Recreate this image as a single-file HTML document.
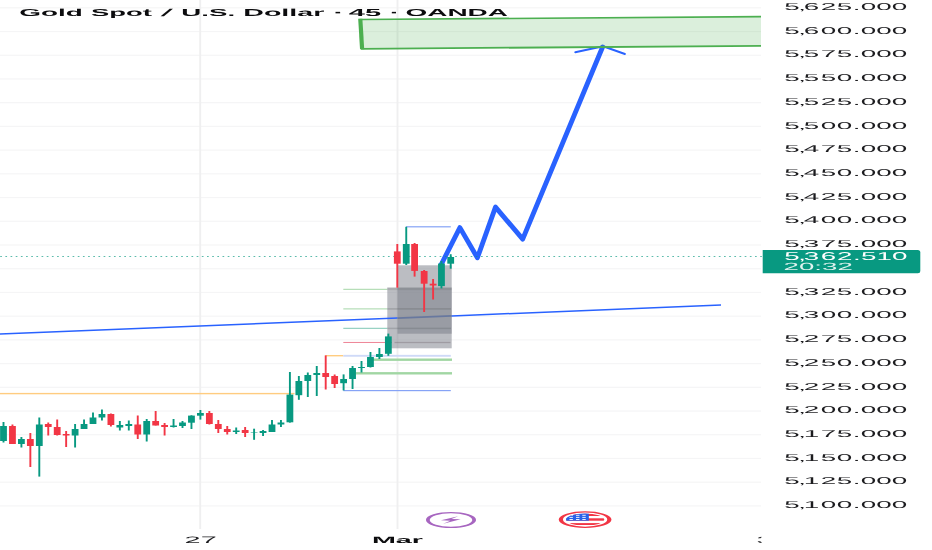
<!DOCTYPE html>
<html><head><meta charset="utf-8"><title>XAUUSD chart</title>
<style>
html,body{margin:0;padding:0;background:#fff;}
body{width:932px;height:550px;overflow:hidden;font-family:"Liberation Sans",sans-serif;}
svg{display:block;font-family:"Liberation Sans",sans-serif;text-rendering:geometricPrecision;}
</style></head><body>
<div id="chart" style="width:932px;height:550px;will-change:transform;background:#fff">
<svg width="932" height="550" viewBox="0 0 932 550">
<defs>
<clipPath id="clipax"><rect x="0" y="530" width="761.5" height="20"/></clipPath>
<clipPath id="flagclip"><circle cx="0" cy="0" r="6.1"/></clipPath>
</defs>
<rect width="932" height="550" fill="#ffffff"/>
<!-- grid -->
<rect x="0" y="7.20" width="761" height="1.2" fill="#f5f5f6"/>
<rect x="0" y="30.92" width="761" height="1.2" fill="#f5f5f6"/>
<rect x="0" y="54.64" width="761" height="1.2" fill="#f5f5f6"/>
<rect x="0" y="78.36" width="761" height="1.2" fill="#f5f5f6"/>
<rect x="0" y="102.08" width="761" height="1.2" fill="#f5f5f6"/>
<rect x="0" y="125.80" width="761" height="1.2" fill="#f5f5f6"/>
<rect x="0" y="149.52" width="761" height="1.2" fill="#f5f5f6"/>
<rect x="0" y="173.24" width="761" height="1.2" fill="#f5f5f6"/>
<rect x="0" y="196.96" width="761" height="1.2" fill="#f5f5f6"/>
<rect x="0" y="220.68" width="761" height="1.2" fill="#f5f5f6"/>
<rect x="0" y="244.40" width="761" height="1.2" fill="#f5f5f6"/>
<rect x="0" y="268.12" width="761" height="1.2" fill="#f5f5f6"/>
<rect x="0" y="291.84" width="761" height="1.2" fill="#f5f5f6"/>
<rect x="0" y="315.56" width="761" height="1.2" fill="#f5f5f6"/>
<rect x="0" y="339.28" width="761" height="1.2" fill="#f5f5f6"/>
<rect x="0" y="363.00" width="761" height="1.2" fill="#f5f5f6"/>
<rect x="0" y="386.72" width="761" height="1.2" fill="#f5f5f6"/>
<rect x="0" y="410.44" width="761" height="1.2" fill="#f5f5f6"/>
<rect x="0" y="434.16" width="761" height="1.2" fill="#f5f5f6"/>
<rect x="0" y="457.88" width="761" height="1.2" fill="#f5f5f6"/>
<rect x="0" y="481.60" width="761" height="1.2" fill="#f5f5f6"/>
<rect x="0" y="505.32" width="761" height="1.2" fill="#f5f5f6"/>
<rect x="199.25" y="0" width="1.9" height="529" fill="#efeff0"/>
<rect x="396.55" y="0" width="1.9" height="529" fill="#efeff0"/>
<!-- study lines -->
<rect x="0" y="392.90" width="294.50" height="1.4" fill="#FFCC80"/>
<rect x="325.4" y="355.00" width="17.90" height="1.4" fill="#FFCC80"/>
<rect x="343.3" y="354.85" width="107.50" height="1.9" fill="#CFDAF8"/>
<rect x="343.3" y="288.80" width="44.00" height="1.0" fill="#A5D6A7"/>
<rect x="343.3" y="308.40" width="44.00" height="1.0" fill="#A5D6A7"/>
<rect x="343.3" y="327.80" width="44.00" height="1.0" fill="#7FC8B5"/>
<rect x="343.3" y="341.95" width="48.70" height="0.9" fill="#EC7489"/>
<rect x="372.3" y="358.50" width="79.70" height="2.4" fill="#A1D6A3"/>
<rect x="356" y="372.10" width="96.00" height="2.4" fill="#A1D6A3"/>
<rect x="343.3" y="390.00" width="107.50" height="1.2" fill="#86A3F6"/>
<rect x="406" y="226.20" width="44.80" height="1.2" fill="#86A3F6"/>
<!-- grey boxes -->
<rect x="387.3" y="287.6" width="64.4" height="60.7" fill="rgba(120,123,134,0.5)"/>
<rect x="397.5" y="265.3" width="54.2" height="68.4" fill="rgba(120,123,134,0.5)"/>
<rect x="387.3" y="287.50" width="64.40" height="2.6" fill="rgba(80,88,85,0.16)"/>
<rect x="387.3" y="308.10" width="63.70" height="1.6" fill="rgba(80,88,85,0.24)"/>
<rect x="387.3" y="327.65" width="63.70" height="1.5" fill="rgba(80,88,90,0.24)"/>
<rect x="394.5" y="341.85" width="56.00" height="1.3" fill="rgba(95,80,88,0.30)"/>
<line x1="0" y1="334.1" x2="397.5" y2="318.09" stroke="#2962FF" stroke-width="1.5"/><line x1="397.5" y1="318.09" x2="451.7" y2="315.91" stroke="#68789F" stroke-width="1.7"/><line x1="451.7" y1="315.91" x2="721" y2="305.06" stroke="#2962FF" stroke-width="1.5"/>
<!-- projection arrow -->
<polyline points="441.2,264.5 459.9,227.6 477.4,257.8 495.5,207.1 522.7,239.1 602.6,47.0" fill="none" stroke="#2962FF" stroke-width="4.85" stroke-linejoin="round" stroke-linecap="round"/>
<polyline points="575.3,52.2 603.1,46.3 624.9,54.0" fill="none" stroke="#2962FF" stroke-width="2.0" stroke-linejoin="round" stroke-linecap="round"/>
<!-- target zone -->
<polygon points="359,19.4 761,16.5 761,46 361,49" fill="rgba(76,175,80,0.2)"/>
<polyline points="761,16.6 359.5,19.5" fill="none" stroke="#4CAF50" stroke-width="1.6"/>
<polyline points="361,48.8 761,45.9" fill="none" stroke="#4CAF50" stroke-width="1.8"/>
<polygon points="358.2,18.8 362.4,18.8 364.2,49.3 360.0,49.3" fill="#4CAF50"/>
<!-- price line -->
<line x1="0.2" y1="256.5" x2="762" y2="256.5" stroke="#089981" stroke-width="1.15" stroke-dasharray="1.7 3.47" opacity="0.66"/>
<!-- candles -->
<rect x="2.55" y="422" width="1.9" height="20.50" fill="#089981"/>
<rect x="0.10" y="426" width="6.8" height="15.00" fill="#089981"/>
<rect x="11.50" y="424.5" width="1.9" height="19.50" fill="#F23645"/>
<rect x="9.05" y="426" width="6.8" height="18.00" fill="#F23645"/>
<rect x="20.45" y="437" width="1.9" height="10.50" fill="#089981"/>
<rect x="18.00" y="439" width="6.8" height="5.00" fill="#089981"/>
<rect x="29.40" y="433" width="1.9" height="34.00" fill="#F23645"/>
<rect x="26.95" y="439" width="6.8" height="7.00" fill="#F23645"/>
<rect x="38.35" y="417.5" width="1.9" height="59.10" fill="#089981"/>
<rect x="35.90" y="424.5" width="6.8" height="21.50" fill="#089981"/>
<rect x="47.30" y="422.5" width="1.9" height="13.00" fill="#F23645"/>
<rect x="44.85" y="424" width="6.8" height="3.00" fill="#F23645"/>
<rect x="56.25" y="419.5" width="1.9" height="16.00" fill="#F23645"/>
<rect x="53.80" y="427" width="6.8" height="8.00" fill="#F23645"/>
<rect x="65.20" y="431" width="1.9" height="16.00" fill="#F23645"/>
<rect x="62.75" y="434" width="6.8" height="1.50" fill="#F23645"/>
<rect x="74.15" y="424" width="1.9" height="23.50" fill="#089981"/>
<rect x="71.70" y="429" width="6.8" height="6.50" fill="#089981"/>
<rect x="83.10" y="419.5" width="1.9" height="9.50" fill="#089981"/>
<rect x="80.65" y="424" width="6.8" height="5.00" fill="#089981"/>
<rect x="92.05" y="412.5" width="1.9" height="11.50" fill="#089981"/>
<rect x="89.60" y="417.5" width="6.8" height="6.50" fill="#089981"/>
<rect x="101.00" y="409.5" width="1.9" height="11.00" fill="#089981"/>
<rect x="98.55" y="414" width="6.8" height="3.50" fill="#089981"/>
<rect x="109.95" y="413.5" width="1.9" height="13.00" fill="#F23645"/>
<rect x="107.50" y="414" width="6.8" height="11.00" fill="#F23645"/>
<rect x="118.90" y="421" width="1.9" height="9.50" fill="#089981"/>
<rect x="116.45" y="425" width="6.8" height="2.50" fill="#089981"/>
<rect x="127.85" y="420.5" width="1.9" height="10.00" fill="#089981"/>
<rect x="125.40" y="424" width="6.8" height="2.00" fill="#089981"/>
<rect x="136.80" y="415.5" width="1.9" height="23.50" fill="#F23645"/>
<rect x="134.35" y="424.5" width="6.8" height="10.00" fill="#F23645"/>
<rect x="145.75" y="419" width="1.9" height="22.50" fill="#089981"/>
<rect x="143.30" y="421" width="6.8" height="13.50" fill="#089981"/>
<rect x="154.70" y="411" width="1.9" height="14.50" fill="#F23645"/>
<rect x="152.25" y="421" width="6.8" height="4.50" fill="#F23645"/>
<rect x="163.65" y="423" width="1.9" height="12.50" fill="#F23645"/>
<rect x="161.20" y="425" width="6.8" height="2.00" fill="#F23645"/>
<rect x="172.60" y="419" width="1.9" height="8.50" fill="#089981"/>
<rect x="170.15" y="425.5" width="6.8" height="1.50" fill="#089981"/>
<rect x="181.55" y="421" width="1.9" height="7.00" fill="#089981"/>
<rect x="179.10" y="422.5" width="6.8" height="3.50" fill="#089981"/>
<rect x="190.50" y="415.3" width="1.9" height="13.70" fill="#089981"/>
<rect x="188.05" y="415.6" width="6.8" height="7.10" fill="#089981"/>
<rect x="199.45" y="410" width="1.9" height="9.60" fill="#089981"/>
<rect x="197.00" y="413" width="6.8" height="2.70" fill="#089981"/>
<rect x="208.40" y="411" width="1.9" height="13.50" fill="#F23645"/>
<rect x="205.95" y="413" width="6.8" height="11.00" fill="#F23645"/>
<rect x="217.35" y="420" width="1.9" height="13.00" fill="#F23645"/>
<rect x="214.90" y="424" width="6.8" height="5.00" fill="#F23645"/>
<rect x="226.30" y="426" width="1.9" height="8.50" fill="#F23645"/>
<rect x="223.85" y="429" width="6.8" height="3.00" fill="#F23645"/>
<rect x="235.25" y="427.5" width="1.9" height="6.50" fill="#089981"/>
<rect x="232.80" y="430.5" width="6.8" height="1.50" fill="#089981"/>
<rect x="244.20" y="427" width="1.9" height="10.00" fill="#F23645"/>
<rect x="241.75" y="430" width="6.8" height="3.00" fill="#F23645"/>
<rect x="253.15" y="428.7" width="1.9" height="11.10" fill="#089981"/>
<rect x="250.70" y="432.1" width="6.8" height="0.50" fill="#089981"/>
<rect x="262.10" y="430" width="1.9" height="6.00" fill="#089981"/>
<rect x="259.65" y="431" width="6.8" height="2.00" fill="#089981"/>
<rect x="271.05" y="420" width="1.9" height="12.00" fill="#089981"/>
<rect x="268.60" y="424.5" width="6.8" height="7.50" fill="#089981"/>
<rect x="280.00" y="420" width="1.9" height="7.00" fill="#089981"/>
<rect x="277.55" y="422.5" width="6.8" height="2.00" fill="#089981"/>
<rect x="288.95" y="372" width="1.9" height="50.60" fill="#089981"/>
<rect x="286.50" y="394.6" width="6.8" height="27.70" fill="#089981"/>
<rect x="297.90" y="376" width="1.9" height="23.80" fill="#089981"/>
<rect x="295.45" y="381" width="6.8" height="14.20" fill="#089981"/>
<rect x="306.85" y="372.5" width="1.9" height="24.50" fill="#089981"/>
<rect x="304.40" y="375" width="6.8" height="6.00" fill="#089981"/>
<rect x="315.80" y="366" width="1.9" height="30.00" fill="#089981"/>
<rect x="313.35" y="373" width="6.8" height="2.00" fill="#089981"/>
<rect x="324.75" y="355.4" width="1.9" height="34.10" fill="#F23645"/>
<rect x="322.30" y="373" width="6.8" height="4.00" fill="#F23645"/>
<rect x="333.70" y="374.5" width="1.9" height="13.50" fill="#F23645"/>
<rect x="331.25" y="376" width="6.8" height="8.00" fill="#F23645"/>
<rect x="342.65" y="374.4" width="1.9" height="16.00" fill="#089981"/>
<rect x="340.20" y="379" width="6.8" height="4.20" fill="#089981"/>
<rect x="351.60" y="366" width="1.9" height="23.00" fill="#089981"/>
<rect x="349.15" y="368" width="6.8" height="11.00" fill="#089981"/>
<rect x="360.55" y="361" width="1.9" height="11.50" fill="#089981"/>
<rect x="358.10" y="367" width="6.8" height="1.00" fill="#089981"/>
<rect x="369.50" y="352" width="1.9" height="15.50" fill="#089981"/>
<rect x="367.05" y="357" width="6.8" height="10.00" fill="#089981"/>
<rect x="378.45" y="348" width="1.9" height="11.00" fill="#089981"/>
<rect x="376.00" y="354" width="6.8" height="3.00" fill="#089981"/>
<rect x="387.40" y="333.6" width="1.9" height="22.20" fill="#089981"/>
<rect x="384.95" y="336.4" width="6.8" height="17.40" fill="#089981"/>
<rect x="396.35" y="244" width="1.9" height="43.70" fill="#F23645"/>
<rect x="393.90" y="251.4" width="6.8" height="12.30" fill="#F23645"/>
<rect x="405.30" y="226.8" width="1.9" height="38.20" fill="#089981"/>
<rect x="402.85" y="244" width="6.8" height="19.70" fill="#089981"/>
<rect x="413.65" y="243" width="1.9" height="33.60" fill="#F23645"/>
<rect x="411.20" y="244" width="6.8" height="26.90" fill="#F23645"/>
<rect x="423.20" y="270" width="1.9" height="42.00" fill="#F23645"/>
<rect x="420.75" y="271" width="6.8" height="12.70" fill="#F23645"/>
<rect x="432.15" y="279" width="1.9" height="20.50" fill="#F23645"/>
<rect x="429.70" y="283.7" width="6.8" height="1.80" fill="#F23645"/>
<rect x="440.50" y="261" width="1.9" height="27.40" fill="#089981"/>
<rect x="438.05" y="263.5" width="6.8" height="22.60" fill="#089981"/>
<rect x="449.75" y="254.2" width="1.9" height="14.50" fill="#089981"/>
<rect x="447.30" y="257" width="6.8" height="6.70" fill="#089981"/>
<!-- title -->
<g font-size="10.2" font-weight="bold" fill="#0c0c0e"><text transform="translate(19.3,15.65) scale(2.738,1)">Gold</text><text transform="translate(90.99,15.65) scale(2.689,1)">Spot</text><text transform="translate(160.6,15.65) scale(2.74,1) skewX(-13.8)">/</text><text transform="translate(181.37,15.65) scale(2.714,1)">U.S.</text><text transform="translate(243.24,15.65) scale(2.807,1)">Dollar</text><text transform="translate(333.15,15.65) scale(3.214,1)">·</text><text transform="translate(348.73,15.65) scale(2.853,1)">45</text><text transform="translate(389.75,15.65) scale(2.929,1)">·</text><text transform="translate(405.5,15.65) scale(2.744,1)">OANDA</text></g>
<!-- price axis -->
<text transform="translate(783.5,10.00) scale(2.78,1)" font-size="10.0" fill="#1c1c1f" dx="0.27 -0.54 -0.81 0.54 0.27 0.16 0.11">5,625.000</text>
<text transform="translate(783.5,33.72) scale(2.78,1)" font-size="10.0" fill="#1c1c1f" dx="0.27 -0.54 -0.81 0.54 0.27 0.16 0.11">5,600.000</text>
<text transform="translate(783.5,57.44) scale(2.78,1)" font-size="10.0" fill="#1c1c1f" dx="0.27 -0.54 -0.81 0.54 0.27 0.16 0.11">5,575.000</text>
<text transform="translate(783.5,81.16) scale(2.78,1)" font-size="10.0" fill="#1c1c1f" dx="0.27 -0.54 -0.81 0.54 0.27 0.16 0.11">5,550.000</text>
<text transform="translate(783.5,104.88) scale(2.78,1)" font-size="10.0" fill="#1c1c1f" dx="0.27 -0.54 -0.81 0.54 0.27 0.16 0.11">5,525.000</text>
<text transform="translate(783.5,128.60) scale(2.78,1)" font-size="10.0" fill="#1c1c1f" dx="0.27 -0.54 -0.81 0.54 0.27 0.16 0.11">5,500.000</text>
<text transform="translate(783.5,152.32) scale(2.78,1)" font-size="10.0" fill="#1c1c1f" dx="0.27 -0.54 -0.81 0.54 0.27 0.16 0.11">5,475.000</text>
<text transform="translate(783.5,176.04) scale(2.78,1)" font-size="10.0" fill="#1c1c1f" dx="0.27 -0.54 -0.81 0.54 0.27 0.16 0.11">5,450.000</text>
<text transform="translate(783.5,199.76) scale(2.78,1)" font-size="10.0" fill="#1c1c1f" dx="0.27 -0.54 -0.81 0.54 0.27 0.16 0.11">5,425.000</text>
<text transform="translate(783.5,223.48) scale(2.78,1)" font-size="10.0" fill="#1c1c1f" dx="0.27 -0.54 -0.81 0.54 0.27 0.16 0.11">5,400.000</text>
<text transform="translate(783.5,247.20) scale(2.78,1)" font-size="10.0" fill="#1c1c1f" dx="0.27 -0.54 -0.81 0.54 0.27 0.16 0.11">5,375.000</text>
<text transform="translate(783.5,294.64) scale(2.78,1)" font-size="10.0" fill="#1c1c1f" dx="0.27 -0.54 -0.81 0.54 0.27 0.16 0.11">5,325.000</text>
<text transform="translate(783.5,318.36) scale(2.78,1)" font-size="10.0" fill="#1c1c1f" dx="0.27 -0.54 -0.81 0.54 0.27 0.16 0.11">5,300.000</text>
<text transform="translate(783.5,342.08) scale(2.78,1)" font-size="10.0" fill="#1c1c1f" dx="0.27 -0.54 -0.81 0.54 0.27 0.16 0.11">5,275.000</text>
<text transform="translate(783.5,365.80) scale(2.78,1)" font-size="10.0" fill="#1c1c1f" dx="0.27 -0.54 -0.81 0.54 0.27 0.16 0.11">5,250.000</text>
<text transform="translate(783.5,389.52) scale(2.78,1)" font-size="10.0" fill="#1c1c1f" dx="0.27 -0.54 -0.81 0.54 0.27 0.16 0.11">5,225.000</text>
<text transform="translate(783.5,413.24) scale(2.78,1)" font-size="10.0" fill="#1c1c1f" dx="0.27 -0.54 -0.81 0.54 0.27 0.16 0.11">5,200.000</text>
<text transform="translate(783.5,436.96) scale(2.78,1)" font-size="10.0" fill="#1c1c1f" dx="0.27 -0.54 -0.81 0.54 0.27 0.16 0.11">5,175.000</text>
<text transform="translate(783.5,460.68) scale(2.78,1)" font-size="10.0" fill="#1c1c1f" dx="0.27 -0.54 -0.81 0.54 0.27 0.16 0.11">5,150.000</text>
<text transform="translate(783.5,484.40) scale(2.78,1)" font-size="10.0" fill="#1c1c1f" dx="0.27 -0.54 -0.81 0.54 0.27 0.16 0.11">5,125.000</text>
<text transform="translate(783.5,508.12) scale(2.78,1)" font-size="10.0" fill="#1c1c1f" dx="0.27 -0.54 -0.81 0.54 0.27 0.16 0.11">5,100.000</text>
<path d="M762.7,250 H917.8 a2.5,2.5 0 0 1 2.5,2.5 V270.8 a2.5,2.5 0 0 1 -2.5,2.5 H762.7 Z" fill="#089981"/>
<text transform="translate(783.6,259.7) scale(2.46,1)" font-size="11.3" fill="#ffffff" dx="0.3 -0.6 -0.9 0.6 0.3 0.18 0.12">5,362.510</text>
<text transform="translate(783.6,269.7) scale(2.66,1)" font-size="10.4" fill="#ffffff" fill-opacity="0.88">20:32</text>
<!-- time axis -->
<text transform="translate(184.6,543.2) scale(3.10,1)" font-size="9.3" fill="#1c1c1f">27</text>
<text transform="translate(371.9,543.2) scale(3.13,1)" font-size="9.2" font-weight="bold" fill="#0c0c0e">Mar</text>
<g clip-path="url(#clipax)"><text transform="translate(756.6,543.2) scale(3.10,1)" font-size="9.3" fill="#1c1c1f">3</text></g>
<g transform="translate(451,520) scale(3.13,1)">
<circle cx="0" cy="0" r="7.4" fill="#fff" stroke="#A766C0" stroke-width="1.2"/>
<path d="M2.3,-3.7 L-3.2,0.25 L-0.2,0.7 L-2.5,3.7 L3.1,-0.65 L0.15,-1.1 Z" fill="#A766C0"/>
</g>
<g transform="translate(585.1,519.6) scale(3.13,1)">
<circle cx="0" cy="0" r="7.75" fill="#fff" stroke="#F23645" stroke-width="1.35"/>
<g clip-path="url(#flagclip)">
<rect x="-7" y="-7" width="14" height="14" fill="#fff"/>
<rect x="-7" y="-6.1" width="14" height="2.5" fill="#F23645"/>
<rect x="-7" y="-1.3" width="14" height="2.4" fill="#F23645"/>
<rect x="-7" y="3.5" width="14" height="1.9" fill="#F23645"/>
<rect x="-7" y="-7" width="8.2" height="8.1" fill="#2962E8"/>
<g fill="#e8eefc">
<rect x="-5.0" y="-4.8" width="1.1" height="1.0"/><rect x="-2.9" y="-4.8" width="1.1" height="1.0"/><rect x="-0.9" y="-4.8" width="1.1" height="1.0"/>
<rect x="-5.0" y="-2.7" width="1.1" height="1.0"/><rect x="-2.9" y="-2.7" width="1.1" height="1.0"/><rect x="-0.9" y="-2.7" width="1.1" height="1.0"/>
<rect x="-5.0" y="-0.6" width="1.1" height="1.0"/><rect x="-2.9" y="-0.6" width="1.1" height="1.0"/><rect x="-0.9" y="-0.6" width="1.1" height="1.0"/>
</g>
</g>
</g>
</svg>
</div>
</body></html>
